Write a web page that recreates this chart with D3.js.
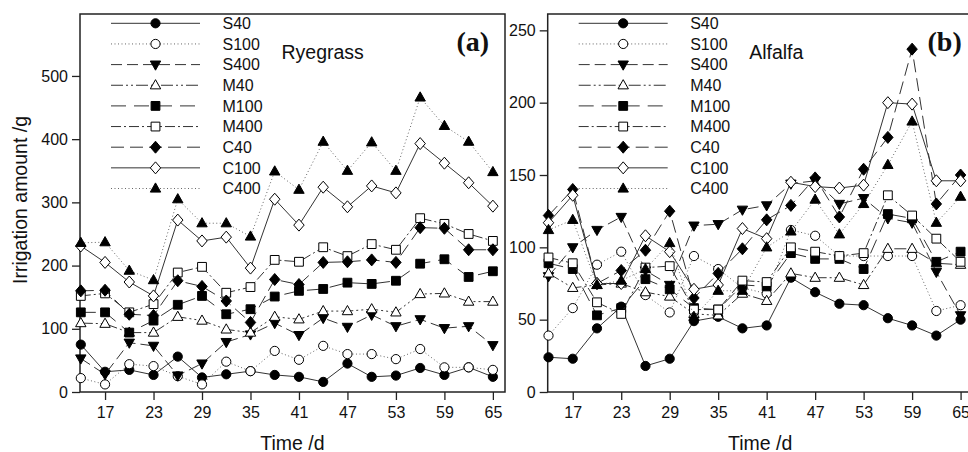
<!DOCTYPE html>
<html>
<head>
<meta charset="utf-8">
<script src="https://cdn.jsdelivr.net/npm/d3@7"></script>
<style>
  body { margin: 0; background: #fff; }
  svg { display: block; }
  text { font-family: "Liberation Sans", Arial, sans-serif; fill: #111; }
</style>
</head>
<body>
<svg id="chart" width="968" height="452"></svg>
<script>
// sampling days (every 3 d)
var days = [14, 17, 20, 23, 26, 29, 32, 35, 38, 41, 44, 47, 50, 53, 56, 59, 62, 65];
var xTicks = [17, 23, 29, 35, 41, 47, 53, 59, 65];
var ryeTicks = [0, 100, 200, 300, 400, 500];
var alfTicks = [0, 50, 100, 150, 200, 250];
var seriesNames = ['S40', 'S100', 'S400', 'M40', 'M100', 'M400', 'C40', 'C100', 'C400'];

// Ryegrass (a)
var ryeS40  = [75, 32, 35, 27, 56, 23, 28, 33, 27, 24, 16, 45, 24, 26, 38, 27, 39, 24];
var ryeS100 = [22, 12, 44, 41, 25, 12, 48, 33, 65, 51, 73, 60, 60, 52, 68, 39, 39, 35];
var ryeS400 = [53, 28, 78, 73, 26, 45, 79, 91, 109, 90, 117, 103, 122, 104, 115, 101, 104, 74];
var ryeM40  = [109, 108, 94, 94, 119, 113, 99, 94, 119, 115, 128, 128, 131, 126, 155, 156, 143, 143];
var ryeM100 = [126, 126, 94, 113, 138, 152, 123, 131, 151, 160, 163, 173, 171, 176, 203, 210, 182, 191];
var ryeM400 = [152, 156, 126, 139, 189, 198, 157, 166, 209, 206, 229, 215, 234, 225, 275, 266, 250, 239];
var ryeC40  = [160, 161, 123, 121, 176, 167, 144, 110, 178, 170, 205, 206, 209, 205, 260, 259, 225, 225];
var ryeC100 = [231, 205, 174, 152, 272, 239, 245, 196, 305, 264, 324, 293, 326, 315, 393, 362, 331, 294];
var ryeC400 = [236, 237, 192, 177, 305, 267, 267, 246, 349, 320, 396, 350, 395, 350, 466, 421, 396, 348];

// Alfalfa (b)
var alfS40  = [24, 23, 44, 59, 18, 23, 49, 52, 44, 46, 79, 69, 61, 60, 51, 46, 39, 50];
var alfS100 = [39, 58, 88, 97, 67, 55, 94, 85, 72, 68, 112, 108, 94, 94, 94, 94, 56, 60];
var alfS400 = [80, 100, 112, 121, 84, 74, 115, 116, 126, 129, 144, 146, 130, 134, 120, 117, 83, 53];
var alfM40  = [82, 72, 74, 75, 69, 66, 54, 53, 68, 63, 82, 79, 79, 74, 99, 99, 89, 88];
var alfM100 = [89, 85, 53, 58, 78, 71, 58, 57, 74, 73, 96, 92, 92, 85, 123, 120, 90, 97];
var alfM400 = [93, 89, 62, 54, 86, 87, 57, 57, 77, 76, 100, 97, 94, 96, 136, 122, 106, 90];
var alfC40  = [122, 140, 75, 84, 98, 125, 65, 82, 99, 119, 129, 148, 121, 154, 176, 237, 130, 150];
var alfC100 = [117, 136, 75, 75, 108, 97, 71, 74, 113, 106, 145, 142, 141, 143, 200, 199, 146, 146];
var alfC400 = [112, 119, 74, 77, 85, 103, 52, 70, 70, 100, 111, 133, 109, 130, 157, 187, 117, 135];

// line style + marker per series, same order as seriesNames
var styles = [
    {dash: null, marker: 'circle', fill: '#000'},
    {dash: '1,2.5', marker: 'circle', fill: '#fff'},
    {dash: '11,5', marker: 'tridown', fill: '#000'},
    {dash: '12,3,2,3,2,3', marker: 'triup', fill: '#fff'},
    {dash: '15,8', marker: 'square', fill: '#000'},
    {dash: '10,3,2,3', marker: 'square', fill: '#fff'},
    {dash: '13,6', marker: 'diamond', fill: '#000'},
    {dash: null, marker: 'diamond', fill: '#fff'},
    {dash: '1,2.5', marker: 'triup', fill: '#000'}
];

function markerPath(type) {
    var p = d3.path();
    if (type == 'circle') {
        p.arc(0, 0, 4.6, 0, 2 * Math.PI);
    } else if (type == 'square') {
        p.rect(-4.4, -4.4, 8.8, 8.8);
    } else if (type == 'triup') {
        p.moveTo(0, -5.6); p.lineTo(5.2, 3.6); p.lineTo(-5.2, 3.6); p.closePath();
    } else if (type == 'tridown') {
        p.moveTo(0, 5.6); p.lineTo(5.2, -3.6); p.lineTo(-5.2, -3.6); p.closePath();
    } else {
        p.moveTo(0, -6); p.lineTo(5.2, 0); p.lineTo(0, 6); p.lineTo(-5.2, 0); p.closePath();
    }
    return p.toString();
}

const svg = d3.select('#chart');

function drawPanel(opt) {
    const left = opt.left, top = 14, bottom = 392, width = 425;
    const xScale = d3.scaleLinear().domain([13.9, 66.5]).range([left, left + width]);
    const yScale = d3.scaleLinear().domain([0, opt.yMax]).range([bottom, top]);
    const g = svg.append('g');

    // frame
    g.append('rect')
        .attr('x', left).attr('y', top)
        .attr('width', width).attr('height', bottom - top)
        .attr('fill', 'none').attr('stroke', '#222').attr('stroke-width', 1.5);

    g.append('g')
        .attr('transform', 'translate(' + left + ',0)')
        .call(d3.axisLeft(yScale).tickValues(opt.yTicks).tickSize(8).tickPadding(4))
        .call(function (a) { a.select('.domain').remove(); })
        .call(function (a) {
            a.selectAll('line').attr('stroke', '#222').attr('stroke-width', 1.3);
            a.selectAll('text').attr('font-size', '16px')
                .attr('font-family', '"Liberation Sans", Arial, sans-serif').attr('fill', '#111');
        });

    g.append('g')
        .attr('transform', 'translate(0,' + bottom + ')')
        .call(d3.axisBottom(xScale).tickValues(xTicks).tickSize(8).tickPadding(7))
        .call(function (a) { a.select('.domain').remove(); })
        .call(function (a) {
            a.selectAll('line').attr('stroke', '#222').attr('stroke-width', 1.3);
            a.selectAll('text').attr('font-size', '16px')
                .attr('font-family', '"Liberation Sans", Arial, sans-serif').attr('fill', '#111');
        });

    const line = d3.line()
        .x(function (d, i) { return xScale(days[i]); })
        .y(function (d) { return yScale(d); });

    opt.data.forEach(function (vals, k) {
        var st = styles[k];
        g.append('path')
            .attr('d', line(vals))
            .attr('fill', 'none')
            .attr('stroke', st.dash == '1,2.5' ? '#666' : '#333')
            .attr('stroke-width', 1)
            .attr('stroke-dasharray', st.dash);
        g.selectAll(null)
            .data(vals)
            .enter().append('path')
            .attr('d', markerPath(st.marker))
            .attr('transform', function (d, i) { return 'translate(' + xScale(days[i]) + ',' + yScale(d) + ')'; })
            .attr('fill', st.fill)
            .attr('stroke', '#000')
            .attr('stroke-width', 1);
    });

    // legend
    seriesNames.forEach(function (name, k) {
        var st = styles[k];
        var ly = 23.3 + k * 20.65;
        var lx = left + 31;
        g.append('line')
            .attr('x1', lx).attr('x2', lx + 89)
            .attr('y1', ly).attr('y2', ly)
            .attr('stroke', st.dash == '1,2.5' ? '#666' : '#333')
            .attr('stroke-width', 1)
            .attr('stroke-dasharray', st.dash);
        g.append('path')
            .attr('d', markerPath(st.marker))
            .attr('transform', 'translate(' + (lx + 44.5) + ',' + ly + ')')
            .attr('fill', st.fill).attr('stroke', '#000');
        g.append('text')
            .attr('x', left + 142.5).attr('y', ly + 5.8)
            .attr('font-size', '16px')
            .text(name);
    });

    g.append('text')
        .attr('x', left + 201.5).attr('y', 58.5)
        .attr('font-size', '19.5px')
        .text(opt.crop);

    g.append('text')
        .attr('x', opt.tagX).attr('y', 51)
        .attr('font-size', '28px')
        .attr('font-weight', 'bold')
        .style('font-family', '"Liberation Serif", "Times New Roman", serif')
        .text(opt.tag);

    g.append('text')
        .attr('x', left + width / 2).attr('y', 449.5)
        .attr('text-anchor', 'middle')
        .attr('font-size', '19.5px')
        .text('Time /d');
}

drawPanel({
    left: 80, yMax: 598, yTicks: ryeTicks, crop: 'Ryegrass', tag: '(a)', tagX: 456.5,
    data: [ryeS40, ryeS100, ryeS400, ryeM40, ryeM100, ryeM400, ryeC40, ryeC100, ryeC400]
});
drawPanel({
    left: 547.7, yMax: 261.3, yTicks: alfTicks, crop: 'Alfalfa', tag: '(b)', tagX: 927.5,
    data: [alfS40, alfS100, alfS400, alfM40, alfM100, alfM400, alfC40, alfC100, alfC400]
});

svg.append('text')
    .attr('transform', 'translate(26.5,200) rotate(-90)')
    .attr('text-anchor', 'middle')
    .attr('font-size', '19.5px')
    .text('Irrigation amount /g');
</script>
</body>
</html>
